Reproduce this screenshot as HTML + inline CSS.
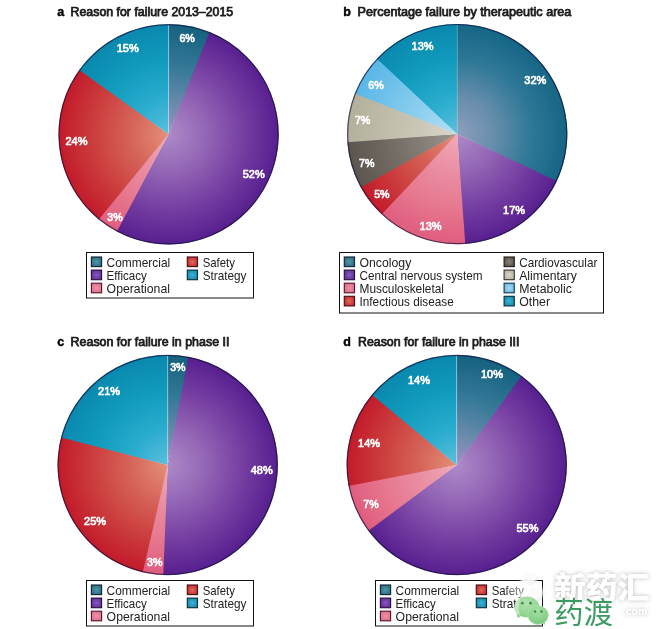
<!DOCTYPE html>
<html lang="en"><head><meta charset="utf-8"><title>Reasons for clinical failure</title>
<style>
html,body{margin:0;padding:0;background:#fff;}
body{width:659px;height:629px;overflow:hidden;position:relative;}
svg{display:block;position:absolute;left:0;top:0;}
text{font-family:"Liberation Sans","Noto Sans CJK SC",sans-serif;}
.pc{font-size:11.7px;font-weight:normal;fill:#fff;stroke:#fff;stroke-width:0.7px;}
.tt{font-size:12px;font-weight:normal;fill:#1c1c1c;stroke:#1c1c1c;stroke-width:0.75px;}
.tl{font-size:12.5px;font-weight:bold;fill:#000;stroke:#000;stroke-width:0.4px;}
.lg{font-size:12.2px;fill:#222;}
</style></head><body>
<svg width="659" height="629" viewBox="0 0 659 629">
<defs><radialGradient id="swcommercial" cx="0.5" cy="0.5" r="0.7"><stop offset="0" stop-color="#4f9aa8"/><stop offset="1" stop-color="#245f74"/></radialGradient><radialGradient id="swefficacy" cx="0.5" cy="0.5" r="0.7"><stop offset="0" stop-color="#8458c4"/><stop offset="1" stop-color="#5a2486"/></radialGradient><radialGradient id="swoperational" cx="0.5" cy="0.5" r="0.7"><stop offset="0" stop-color="#ee92a8"/><stop offset="1" stop-color="#dc6684"/></radialGradient><radialGradient id="swsafety" cx="0.5" cy="0.5" r="0.7"><stop offset="0" stop-color="#e46a58"/><stop offset="1" stop-color="#b81c2c"/></radialGradient><radialGradient id="swstrategy" cx="0.5" cy="0.5" r="0.7"><stop offset="0" stop-color="#3cb2d6"/><stop offset="1" stop-color="#0c7ea4"/></radialGradient><radialGradient id="swcardio" cx="0.5" cy="0.5" r="0.7"><stop offset="0" stop-color="#8a837b"/><stop offset="1" stop-color="#4a423b"/></radialGradient><radialGradient id="swalimentary" cx="0.5" cy="0.5" r="0.7"><stop offset="0" stop-color="#d8d5cb"/><stop offset="1" stop-color="#aeab9a"/></radialGradient><radialGradient id="swmetabolic" cx="0.5" cy="0.5" r="0.7"><stop offset="0" stop-color="#b0dcf2"/><stop offset="1" stop-color="#52aede"/></radialGradient></defs>
<defs><radialGradient id="gacommercial" gradientUnits="userSpaceOnUse" cx="168.6" cy="134.3" r="110.1"><stop offset="0" stop-color="#9f90c4"/><stop offset="0.28" stop-color="#6a8aac"/><stop offset="0.62" stop-color="#347997"/><stop offset="1" stop-color="#14617f"/></radialGradient><radialGradient id="gaefficacy" gradientUnits="userSpaceOnUse" cx="168.6" cy="134.3" r="110.1"><stop offset="0" stop-color="#ac8ac8"/><stop offset="0.33" stop-color="#9467b6"/><stop offset="0.67" stop-color="#763fa2"/><stop offset="1" stop-color="#571f8f"/></radialGradient><radialGradient id="gaoperational" gradientUnits="userSpaceOnUse" cx="168.6" cy="134.3" r="110.1"><stop offset="0" stop-color="#f2aab8"/><stop offset="0.33" stop-color="#ea90a4"/><stop offset="0.67" stop-color="#e6788f"/><stop offset="1" stop-color="#e05c7e"/></radialGradient><radialGradient id="gasafety" gradientUnits="userSpaceOnUse" cx="168.6" cy="134.3" r="110.1"><stop offset="0" stop-color="#e49079"/><stop offset="0.33" stop-color="#d6655a"/><stop offset="0.67" stop-color="#cc3f3e"/><stop offset="1" stop-color="#c21a2a"/></radialGradient><radialGradient id="gastrategy" gradientUnits="userSpaceOnUse" cx="168.6" cy="134.3" r="110.1"><stop offset="0" stop-color="#5cc0dc"/><stop offset="0.33" stop-color="#2aacce"/><stop offset="0.67" stop-color="#109bbc"/><stop offset="1" stop-color="#0a88ae"/></radialGradient><radialGradient id="gboncology" gradientUnits="userSpaceOnUse" cx="457.2" cy="134.1" r="110.1"><stop offset="0" stop-color="#8d9fbe"/><stop offset="0.33" stop-color="#688eac"/><stop offset="0.67" stop-color="#2f7897"/><stop offset="1" stop-color="#156585"/></radialGradient><radialGradient id="gbcns" gradientUnits="userSpaceOnUse" cx="457.2" cy="134.1" r="110.1"><stop offset="0" stop-color="#ac8ac8"/><stop offset="0.33" stop-color="#9467b6"/><stop offset="0.67" stop-color="#763fa2"/><stop offset="1" stop-color="#571f8f"/></radialGradient><radialGradient id="gbmusculo" gradientUnits="userSpaceOnUse" cx="457.2" cy="134.1" r="110.1"><stop offset="0" stop-color="#f2aab8"/><stop offset="0.33" stop-color="#ea90a4"/><stop offset="0.67" stop-color="#e6788f"/><stop offset="1" stop-color="#e05c7e"/></radialGradient><radialGradient id="gbinfectious" gradientUnits="userSpaceOnUse" cx="457.2" cy="134.1" r="110.1"><stop offset="0" stop-color="#e49079"/><stop offset="0.33" stop-color="#d6655a"/><stop offset="0.67" stop-color="#cc3f3e"/><stop offset="1" stop-color="#c21a2a"/></radialGradient><radialGradient id="gbcardio" gradientUnits="userSpaceOnUse" cx="457.2" cy="134.1" r="110.1"><stop offset="0" stop-color="#9c968f"/><stop offset="0.33" stop-color="#847e77"/><stop offset="0.67" stop-color="#6e6861"/><stop offset="1" stop-color="#5c554e"/></radialGradient><radialGradient id="gbalimentary" gradientUnits="userSpaceOnUse" cx="457.2" cy="134.1" r="110.1"><stop offset="0" stop-color="#dad6ca"/><stop offset="0.33" stop-color="#ccc8b8"/><stop offset="0.67" stop-color="#bfbcaa"/><stop offset="1" stop-color="#b2af9a"/></radialGradient><radialGradient id="gbmetabolic" gradientUnits="userSpaceOnUse" cx="457.2" cy="134.1" r="110.1"><stop offset="0" stop-color="#b6e0f4"/><stop offset="0.33" stop-color="#94d2f0"/><stop offset="0.67" stop-color="#74c4ec"/><stop offset="1" stop-color="#58b6e6"/></radialGradient><radialGradient id="gbother" gradientUnits="userSpaceOnUse" cx="457.2" cy="134.1" r="110.1"><stop offset="0" stop-color="#5cc0dc"/><stop offset="0.33" stop-color="#2aacce"/><stop offset="0.67" stop-color="#109bbc"/><stop offset="1" stop-color="#0a88ae"/></radialGradient><radialGradient id="gccommercial" gradientUnits="userSpaceOnUse" cx="167.7" cy="465.0" r="110.1"><stop offset="0" stop-color="#9f90c4"/><stop offset="0.28" stop-color="#6a8aac"/><stop offset="0.62" stop-color="#347997"/><stop offset="1" stop-color="#14617f"/></radialGradient><radialGradient id="gcefficacy" gradientUnits="userSpaceOnUse" cx="167.7" cy="465.0" r="110.1"><stop offset="0" stop-color="#ac8ac8"/><stop offset="0.33" stop-color="#9467b6"/><stop offset="0.67" stop-color="#763fa2"/><stop offset="1" stop-color="#571f8f"/></radialGradient><radialGradient id="gcoperational" gradientUnits="userSpaceOnUse" cx="167.7" cy="465.0" r="110.1"><stop offset="0" stop-color="#f2aab8"/><stop offset="0.33" stop-color="#ea90a4"/><stop offset="0.67" stop-color="#e6788f"/><stop offset="1" stop-color="#e05c7e"/></radialGradient><radialGradient id="gcsafety" gradientUnits="userSpaceOnUse" cx="167.7" cy="465.0" r="110.1"><stop offset="0" stop-color="#e49079"/><stop offset="0.33" stop-color="#d6655a"/><stop offset="0.67" stop-color="#cc3f3e"/><stop offset="1" stop-color="#c21a2a"/></radialGradient><radialGradient id="gcstrategy" gradientUnits="userSpaceOnUse" cx="167.7" cy="465.0" r="110.1"><stop offset="0" stop-color="#5cc0dc"/><stop offset="0.33" stop-color="#2aacce"/><stop offset="0.67" stop-color="#109bbc"/><stop offset="1" stop-color="#0a88ae"/></radialGradient><radialGradient id="gdcommercial" gradientUnits="userSpaceOnUse" cx="456.7" cy="465.0" r="110.1"><stop offset="0" stop-color="#9f90c4"/><stop offset="0.28" stop-color="#6a8aac"/><stop offset="0.62" stop-color="#347997"/><stop offset="1" stop-color="#14617f"/></radialGradient><radialGradient id="gdefficacy" gradientUnits="userSpaceOnUse" cx="456.7" cy="465.0" r="110.1"><stop offset="0" stop-color="#ac8ac8"/><stop offset="0.33" stop-color="#9467b6"/><stop offset="0.67" stop-color="#763fa2"/><stop offset="1" stop-color="#571f8f"/></radialGradient><radialGradient id="gdoperational" gradientUnits="userSpaceOnUse" cx="456.7" cy="465.0" r="110.1"><stop offset="0" stop-color="#f2aab8"/><stop offset="0.33" stop-color="#ea90a4"/><stop offset="0.67" stop-color="#e6788f"/><stop offset="1" stop-color="#e05c7e"/></radialGradient><radialGradient id="gdsafety" gradientUnits="userSpaceOnUse" cx="456.7" cy="465.0" r="110.1"><stop offset="0" stop-color="#e49079"/><stop offset="0.33" stop-color="#d6655a"/><stop offset="0.67" stop-color="#cc3f3e"/><stop offset="1" stop-color="#c21a2a"/></radialGradient><radialGradient id="gdstrategy" gradientUnits="userSpaceOnUse" cx="456.7" cy="465.0" r="110.1"><stop offset="0" stop-color="#5cc0dc"/><stop offset="0.33" stop-color="#2aacce"/><stop offset="0.67" stop-color="#109bbc"/><stop offset="1" stop-color="#0a88ae"/></radialGradient></defs>
<path d="M168.6 134.3L168.60 24.20A110.1 110.1 0 0 1 210.91 32.65Z" fill="url(#gacommercial)"/>
<path d="M168.6 134.3L209.49 32.07A110.1 110.1 0 1 1 115.56 230.78Z" fill="url(#gaefficacy)"/>
<path d="M168.6 134.3L116.91 231.51A110.1 110.1 0 0 1 97.68 218.52Z" fill="url(#gaoperational)"/>
<path d="M168.6 134.3L98.86 219.50A110.1 110.1 0 0 1 80.21 68.66Z" fill="url(#gasafety)"/>
<path d="M168.6 134.3L79.30 69.90A110.1 110.1 0 0 1 168.60 24.20Z" fill="url(#gastrategy)"/>
<line x1="168.6" y1="132.3" x2="168.6" y2="25.200000000000017" stroke="#fff" stroke-opacity="0.35" stroke-width="1"/>
<circle cx="168.6" cy="134.3" r="109.6" fill="none" stroke="#15103a" stroke-opacity="0.7" stroke-width="1.2"/>
<path d="M457.2 134.1L457.20 24.00A110.1 110.1 0 0 1 556.16 182.36Z" fill="url(#gboncology)"/>
<path d="M457.2 134.1L556.82 180.98A110.1 110.1 0 0 1 463.73 244.01Z" fill="url(#gbcns)"/>
<path d="M457.2 134.1L465.26 243.90A110.1 110.1 0 0 1 380.72 213.30Z" fill="url(#gbmusculo)"/>
<path d="M457.2 134.1L381.83 214.36A110.1 110.1 0 0 1 359.99 185.79Z" fill="url(#gbinfectious)"/>
<path d="M457.2 134.1L360.72 187.14A110.1 110.1 0 0 1 347.29 140.63Z" fill="url(#gbcardio)"/>
<path d="M457.2 134.1L347.40 142.16A110.1 110.1 0 0 1 355.41 92.14Z" fill="url(#gbalimentary)"/>
<path d="M457.2 134.1L354.83 93.57A110.1 110.1 0 0 1 378.00 57.62Z" fill="url(#gbmetabolic)"/>
<path d="M457.2 134.1L376.94 58.73A110.1 110.1 0 0 1 457.20 24.00Z" fill="url(#gbother)"/>
<line x1="457.2" y1="132.1" x2="457.2" y2="25.0" stroke="#fff" stroke-opacity="0.15" stroke-width="1"/>
<circle cx="457.2" cy="134.1" r="109.6" fill="none" stroke="#15103a" stroke-opacity="0.7" stroke-width="1.2"/>
<path d="M167.7 465.0L167.70 354.90A110.1 110.1 0 0 1 189.84 357.15Z" fill="url(#gccommercial)"/>
<path d="M167.7 465.0L188.33 356.85A110.1 110.1 0 0 1 161.75 574.94Z" fill="url(#gcefficacy)"/>
<path d="M167.7 465.0L163.28 575.01A110.1 110.1 0 0 1 141.25 571.88Z" fill="url(#gcoperational)"/>
<path d="M167.7 465.0L142.75 572.23A110.1 110.1 0 0 1 61.45 436.13Z" fill="url(#gcsafety)"/>
<path d="M167.7 465.0L61.06 437.62A110.1 110.1 0 0 1 167.70 354.90Z" fill="url(#gcstrategy)"/>
<line x1="167.7" y1="463.0" x2="167.7" y2="355.9" stroke="#fff" stroke-opacity="0.35" stroke-width="1"/>
<circle cx="167.7" cy="465.0" r="109.6" fill="none" stroke="#15103a" stroke-opacity="0.7" stroke-width="1.2"/>
<path d="M456.7 465.0L456.70 354.90A110.1 110.1 0 0 1 522.65 376.84Z" fill="url(#gdcommercial)"/>
<path d="M456.7 465.0L521.42 375.93A110.1 110.1 0 1 1 367.51 529.56Z" fill="url(#gdefficacy)"/>
<path d="M456.7 465.0L368.42 530.80A110.1 110.1 0 0 1 348.34 484.50Z" fill="url(#gdoperational)"/>
<path d="M456.7 465.0L348.62 486.01A110.1 110.1 0 0 1 372.85 393.64Z" fill="url(#gdsafety)"/>
<path d="M456.7 465.0L371.87 394.82A110.1 110.1 0 0 1 456.70 354.90Z" fill="url(#gdstrategy)"/>
<line x1="456.7" y1="463.0" x2="456.7" y2="355.9" stroke="#fff" stroke-opacity="0.35" stroke-width="1"/>
<circle cx="456.7" cy="465.0" r="109.6" fill="none" stroke="#15103a" stroke-opacity="0.7" stroke-width="1.2"/>
<text x="179.4" y="41.8" class="pc" textLength="15.4" lengthAdjust="spacingAndGlyphs">6%</text>
<text x="242.7" y="178.3" class="pc" textLength="22.0" lengthAdjust="spacingAndGlyphs">52%</text>
<text x="107.3" y="220.5" class="pc" textLength="15.4" lengthAdjust="spacingAndGlyphs">3%</text>
<text x="65.5" y="144.7" class="pc" textLength="22.0" lengthAdjust="spacingAndGlyphs">24%</text>
<text x="116.7" y="51.9" class="pc" textLength="22.0" lengthAdjust="spacingAndGlyphs">15%</text>
<text x="524.3" y="84" class="pc" textLength="22.0" lengthAdjust="spacingAndGlyphs">32%</text>
<text x="503.1" y="213.8" class="pc" textLength="22.0" lengthAdjust="spacingAndGlyphs">17%</text>
<text x="419.6" y="230.1" class="pc" textLength="22.0" lengthAdjust="spacingAndGlyphs">13%</text>
<text x="374.2" y="197.5" class="pc" textLength="15.4" lengthAdjust="spacingAndGlyphs">5%</text>
<text x="359.0" y="166.9" class="pc" textLength="15.4" lengthAdjust="spacingAndGlyphs">7%</text>
<text x="354.9" y="124.1" class="pc" textLength="15.4" lengthAdjust="spacingAndGlyphs">7%</text>
<text x="368.3" y="88.6" class="pc" textLength="15.4" lengthAdjust="spacingAndGlyphs">6%</text>
<text x="411.6" y="49.7" class="pc" textLength="22.0" lengthAdjust="spacingAndGlyphs">13%</text>
<text x="170.2" y="370.5" class="pc" textLength="15.4" lengthAdjust="spacingAndGlyphs">3%</text>
<text x="250.7" y="474.1" class="pc" textLength="22.0" lengthAdjust="spacingAndGlyphs">48%</text>
<text x="147.1" y="565.9" class="pc" textLength="15.4" lengthAdjust="spacingAndGlyphs">3%</text>
<text x="84.1" y="524.9" class="pc" textLength="22.0" lengthAdjust="spacingAndGlyphs">25%</text>
<text x="98.1" y="394.7" class="pc" textLength="22.0" lengthAdjust="spacingAndGlyphs">21%</text>
<text x="481.0" y="377.9" class="pc" textLength="22.0" lengthAdjust="spacingAndGlyphs">10%</text>
<text x="516.5" y="531.9" class="pc" textLength="22.0" lengthAdjust="spacingAndGlyphs">55%</text>
<text x="363.3" y="508.4" class="pc" textLength="15.4" lengthAdjust="spacingAndGlyphs">7%</text>
<text x="358.1" y="446.8" class="pc" textLength="22.0" lengthAdjust="spacingAndGlyphs">14%</text>
<text x="408.0" y="383.7" class="pc" textLength="22.0" lengthAdjust="spacingAndGlyphs">14%</text>

<text x="57.3" y="15.7" class="tl">a</text><text x="70.6" y="15.6" class="tt" textLength="162.6" lengthAdjust="spacingAndGlyphs">Reason for failure 2013–2015</text>
<text x="343.3" y="15.7" class="tl">b</text><text x="357.6" y="15.6" class="tt" textLength="213.8" lengthAdjust="spacingAndGlyphs">Percentage failure by therapeutic area</text>
<text x="57.3" y="345.6" class="tl">c</text><text x="70.6" y="345.5" class="tt" textLength="158.8" lengthAdjust="spacingAndGlyphs">Reason for failure in phase II</text>
<text x="343.2" y="345.6" class="tl">d</text><text x="358.0" y="345.5" class="tt" textLength="161.5" lengthAdjust="spacingAndGlyphs">Reason for failure in phase III</text>

<g id="legend-a"><rect x="86.5" y="252.5" width="167" height="45.5" fill="#fff" stroke="#111" stroke-width="1"/><rect x="91.4" y="257.0" width="10.2" height="9.6" fill="url(#swcommercial)" stroke="#15263a" stroke-width="1.15"/>
<text x="106.6" y="266.8" class="lg" textLength="63.6" lengthAdjust="spacingAndGlyphs">Commercial</text>
<rect x="91.4" y="270.1" width="10.2" height="9.6" fill="url(#swefficacy)" stroke="#2a1040" stroke-width="1.15"/>
<text x="106.6" y="279.9" class="lg" textLength="40.2" lengthAdjust="spacingAndGlyphs">Efficacy</text>
<rect x="91.4" y="283.2" width="10.2" height="9.6" fill="url(#swoperational)" stroke="#5a1830" stroke-width="1.15"/>
<text x="106.6" y="293.0" class="lg" textLength="63.4" lengthAdjust="spacingAndGlyphs">Operational</text><rect x="187.3" y="257.0" width="10.2" height="9.6" fill="url(#swsafety)" stroke="#4a1018" stroke-width="1.15"/>
<text x="202.7" y="266.8" class="lg" textLength="32.3" lengthAdjust="spacingAndGlyphs">Safety</text>
<rect x="187.3" y="270.1" width="10.2" height="9.6" fill="url(#swstrategy)" stroke="#10303c" stroke-width="1.15"/>
<text x="202.7" y="279.9" class="lg" textLength="43.8" lengthAdjust="spacingAndGlyphs">Strategy</text></g>
<g id="legend-b"><rect x="339.5" y="252.5" width="264" height="60.5" fill="#fff" stroke="#111" stroke-width="1"/><rect x="344.3" y="257.0" width="10.2" height="9.6" fill="url(#swcommercial)" stroke="#15263a" stroke-width="1.15"/>
<text x="359.5" y="266.8" class="lg" textLength="51.8" lengthAdjust="spacingAndGlyphs">Oncology</text>
<rect x="344.3" y="270.1" width="10.2" height="9.6" fill="url(#swefficacy)" stroke="#2a1040" stroke-width="1.15"/>
<text x="359.5" y="279.9" class="lg" textLength="122.9" lengthAdjust="spacingAndGlyphs">Central nervous system</text>
<rect x="344.3" y="283.2" width="10.2" height="9.6" fill="url(#swoperational)" stroke="#5a1830" stroke-width="1.15"/>
<text x="359.5" y="293.0" class="lg" textLength="84.5" lengthAdjust="spacingAndGlyphs">Musculoskeletal</text>
<rect x="344.3" y="296.3" width="10.2" height="9.6" fill="url(#swsafety)" stroke="#4a1018" stroke-width="1.15"/>
<text x="359.5" y="306.1" class="lg" textLength="94.2" lengthAdjust="spacingAndGlyphs">Infectious disease</text><rect x="504.1" y="257.0" width="10.2" height="9.6" fill="url(#swcardio)" stroke="#26221e" stroke-width="1.15"/>
<text x="519.2" y="266.8" class="lg" textLength="78.2" lengthAdjust="spacingAndGlyphs">Cardiovascular</text>
<rect x="504.1" y="270.1" width="10.2" height="9.6" fill="url(#swalimentary)" stroke="#3a3a34" stroke-width="1.15"/>
<text x="519.2" y="279.9" class="lg" textLength="57.6" lengthAdjust="spacingAndGlyphs">Alimentary</text>
<rect x="504.1" y="283.2" width="10.2" height="9.6" fill="url(#swmetabolic)" stroke="#1c3c50" stroke-width="1.15"/>
<text x="519.2" y="293.0" class="lg" textLength="52.7" lengthAdjust="spacingAndGlyphs">Metabolic</text>
<rect x="504.1" y="296.3" width="10.2" height="9.6" fill="url(#swstrategy)" stroke="#10303c" stroke-width="1.15"/>
<text x="519.2" y="306.1" class="lg" textLength="30.8" lengthAdjust="spacingAndGlyphs">Other</text></g>
<g id="legend-c"><rect x="86.5" y="580.5" width="167" height="45.5" fill="#fff" stroke="#111" stroke-width="1"/><rect x="91.4" y="585.0" width="10.2" height="9.6" fill="url(#swcommercial)" stroke="#15263a" stroke-width="1.15"/>
<text x="106.6" y="594.8" class="lg" textLength="63.6" lengthAdjust="spacingAndGlyphs">Commercial</text>
<rect x="91.4" y="598.1" width="10.2" height="9.6" fill="url(#swefficacy)" stroke="#2a1040" stroke-width="1.15"/>
<text x="106.6" y="607.9" class="lg" textLength="40.2" lengthAdjust="spacingAndGlyphs">Efficacy</text>
<rect x="91.4" y="611.2" width="10.2" height="9.6" fill="url(#swoperational)" stroke="#5a1830" stroke-width="1.15"/>
<text x="106.6" y="621.0" class="lg" textLength="63.4" lengthAdjust="spacingAndGlyphs">Operational</text><rect x="187.3" y="585.0" width="10.2" height="9.6" fill="url(#swsafety)" stroke="#4a1018" stroke-width="1.15"/>
<text x="202.7" y="594.8" class="lg" textLength="32.3" lengthAdjust="spacingAndGlyphs">Safety</text>
<rect x="187.3" y="598.1" width="10.2" height="9.6" fill="url(#swstrategy)" stroke="#10303c" stroke-width="1.15"/>
<text x="202.7" y="607.9" class="lg" textLength="43.8" lengthAdjust="spacingAndGlyphs">Strategy</text></g>
<g id="legend-d"><rect x="375.5" y="580.5" width="167" height="45.5" fill="#fff" stroke="#111" stroke-width="1"/><rect x="380.4" y="585.0" width="10.2" height="9.6" fill="url(#swcommercial)" stroke="#15263a" stroke-width="1.15"/>
<text x="395.6" y="594.8" class="lg" textLength="63.6" lengthAdjust="spacingAndGlyphs">Commercial</text>
<rect x="380.4" y="598.1" width="10.2" height="9.6" fill="url(#swefficacy)" stroke="#2a1040" stroke-width="1.15"/>
<text x="395.6" y="607.9" class="lg" textLength="40.2" lengthAdjust="spacingAndGlyphs">Efficacy</text>
<rect x="380.4" y="611.2" width="10.2" height="9.6" fill="url(#swoperational)" stroke="#5a1830" stroke-width="1.15"/>
<text x="395.6" y="621.0" class="lg" textLength="63.4" lengthAdjust="spacingAndGlyphs">Operational</text><rect x="476.3" y="585.0" width="10.2" height="9.6" fill="url(#swsafety)" stroke="#4a1018" stroke-width="1.15"/>
<text x="491.7" y="594.8" class="lg" textLength="32.3" lengthAdjust="spacingAndGlyphs">Safety</text>
<rect x="476.3" y="598.1" width="10.2" height="9.6" fill="url(#swstrategy)" stroke="#10303c" stroke-width="1.15"/>
<text x="491.7" y="607.9" class="lg" textLength="43.8" lengthAdjust="spacingAndGlyphs">Strategy</text></g>
<defs>
<filter id="wmglow" x="-10%" y="-30%" width="120%" height="160%">
<feGaussianBlur in="SourceAlpha" stdDeviation="1.9" result="b"/>
<feFlood flood-color="#888" flood-opacity="0.62"/><feComposite in2="b" operator="in" result="s"/>
<feMerge><feMergeNode in="s"/><feMergeNode in="SourceGraphic"/></feMerge>
</filter>
<filter id="wmblur" x="-30%" y="-30%" width="160%" height="160%"><feGaussianBlur stdDeviation="0.9"/></filter>
<filter id="wmsoft" x="-10%" y="-10%" width="120%" height="120%"><feGaussianBlur stdDeviation="0.45"/></filter>
<radialGradient id="wcA" cx="0.45" cy="0.3" r="0.8"><stop offset="0" stop-color="#b2e3ae"/><stop offset="0.7" stop-color="#93d490"/><stop offset="1" stop-color="#7ec880"/></radialGradient>
<radialGradient id="wcB" cx="0.45" cy="0.25" r="0.8"><stop offset="0" stop-color="#a6dfa4"/><stop offset="0.7" stop-color="#86cf88"/><stop offset="1" stop-color="#72c278"/></radialGradient>
</defs>
<g id="watermark">
<g filter="url(#wmblur)">
<ellipse cx="528.300" cy="577.400" rx="8.800" ry="6.100" fill="#c9c9c9" opacity="0.5" transform="translate(1 1)"/>
<ellipse cx="534.800" cy="592.300" rx="8.300" ry="7.400" fill="#c9c9c9" opacity="0.5" transform="translate(1 1)"/>
<ellipse cx="528.300" cy="577.400" rx="8.800" ry="6.100" fill="#fff" opacity="0.85"/>
<ellipse cx="534.800" cy="592.300" rx="8.300" ry="7.400" fill="#fff" opacity="0.85"/>
<ellipse cx="519" cy="588.500" rx="12" ry="6.500" fill="#fff" opacity="0.4"/>
<ellipse cx="523" cy="595.500" rx="6" ry="2.600" fill="#fff" opacity="0.8"/>
</g>
<g filter="url(#wmglow)">
<text x="554.3" y="597.6" font-size="29.5" font-weight="900" fill="#fff" textLength="95" lengthAdjust="spacingAndGlyphs">新药汇</text>
<text x="622.8" y="615.4" font-size="10.5" font-weight="bold" fill="#fff" textLength="24.6" lengthAdjust="spacingAndGlyphs">.com</text>
</g>
<g id="wechat" filter="url(#wmsoft)">
<path d="M516.5 613.500l1.200 4.600 4.600-2.800z" fill="#8bd089"/>
<ellipse cx="526.800" cy="607" rx="12.500" ry="10.400" fill="url(#wcA)"/>
<path d="M514.300 607a12.500 10.400 0 0 1 6.500-9.100c-2.500 5-2.800 12-.5 18.200a12.500 10.400 0 0 1-6-9.100z" fill="#fff" opacity="0.4"/>
<path d="M541.500 622.500l3.600 2.300-.6-4.300z" fill="#7fcc82"/>
<ellipse cx="538.100" cy="615.100" rx="10.300" ry="9.300" fill="url(#wcB)" stroke="#b9e6b8" stroke-width="0.7"/>
<circle cx="522.300" cy="603.200" r="1.350" fill="#3f8a4f"/><circle cx="530.600" cy="603.200" r="1.350" fill="#3f8a4f"/>
<circle cx="535" cy="611.600" r="1.250" fill="#3f8a4f"/><circle cx="541.500" cy="611.600" r="1.250" fill="#3f8a4f"/>
</g>
<text x="554.3" y="623" font-size="29.2" fill="#3b9b62" textLength="58.8" lengthAdjust="spacingAndGlyphs">药渡</text>
</g>

</svg>
</body></html>
